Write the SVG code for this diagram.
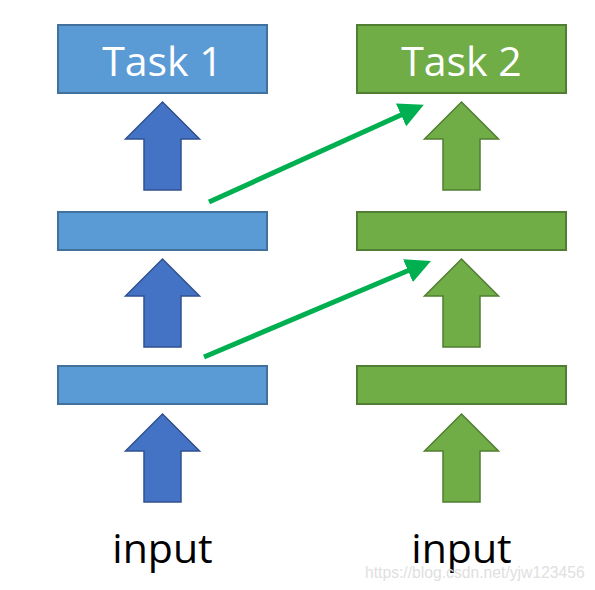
<svg xmlns="http://www.w3.org/2000/svg" width="595" height="590" viewBox="0 0 595 590">
<defs>
<style>
.bb{fill:#5B9BD5;stroke:#41719C;stroke-width:2}
.gb{fill:#70AD47;stroke:#507E32;stroke-width:2}
.ba{fill:#4472C4;stroke:#2F528F;stroke-width:1.5}
.ga{fill:#70AD47;stroke:#507E32;stroke-width:1.5}
.tt{font-family:"Open Sans","Liberation Sans",sans-serif;font-size:41px;fill:#fff;text-anchor:middle}
.in{font-family:"Open Sans","Liberation Sans",sans-serif;font-size:41px;fill:#000;text-anchor:middle}
.wm{font-family:"Liberation Sans",Arial,sans-serif;font-size:15.7px;fill:#e0e0e0}
.cn{stroke:#00B050;stroke-width:5;fill:none}
</style>
<marker id="ah" markerWidth="5" markerHeight="5" refX="2.4" refY="2.5" orient="auto" markerUnits="strokeWidth">
<path d="M0,0 L5,2.5 L0,5 Z" fill="#00B050"/>
</marker>
<path id="arr" d="M0,0 L37,37 L18.5,37 L18.5,88 L-18.5,88 L-18.5,37 L-37,37 Z"/>
</defs>
<rect width="595" height="590" fill="#fff"/>
<g id="task1"><rect class="bb" x="58" y="25" width="209" height="68"/><text class="tt" x="162.5" y="76">Task 1</text></g>
<g id="task2"><rect class="gb" x="357" y="25" width="209" height="68"/><text class="tt" x="461.5" y="76">Task 2</text></g>
<g id="blue-mid"><rect class="bb" x="58" y="212" width="209" height="38"/></g>
<g id="green-mid"><rect class="gb" x="357" y="212" width="209" height="38"/></g>
<g id="blue-low"><rect class="bb" x="58" y="366" width="209" height="38"/></g>
<g id="green-low"><rect class="gb" x="357" y="366" width="209" height="38"/></g>
<g id="blue-arrow-1"><use href="#arr" class="ba" x="162.5" y="102"/></g>
<g id="blue-arrow-2"><use href="#arr" class="ba" x="162.5" y="259"/></g>
<g id="blue-arrow-3"><use href="#arr" class="ba" x="162.5" y="414"/></g>
<g id="green-arrow-1"><use href="#arr" class="ga" x="461.5" y="102"/></g>
<g id="green-arrow-2"><use href="#arr" class="ga" x="461.5" y="259"/></g>
<g id="green-arrow-3"><use href="#arr" class="ga" x="461.5" y="414"/></g>
<g id="input-left"><text class="in" x="162.5" y="563">input</text></g>
<g id="input-right"><text class="in" x="461.5" y="563">input</text></g>
<g id="connectors">
<line class="cn" x1="209" y1="202" x2="412" y2="110" marker-end="url(#ah)"/>
<line class="cn" x1="204" y1="357" x2="419" y2="266" marker-end="url(#ah)"/>
</g>
<text class="wm" x="365" y="578">https://blog.csdn.net/yjw123456</text>
</svg>
